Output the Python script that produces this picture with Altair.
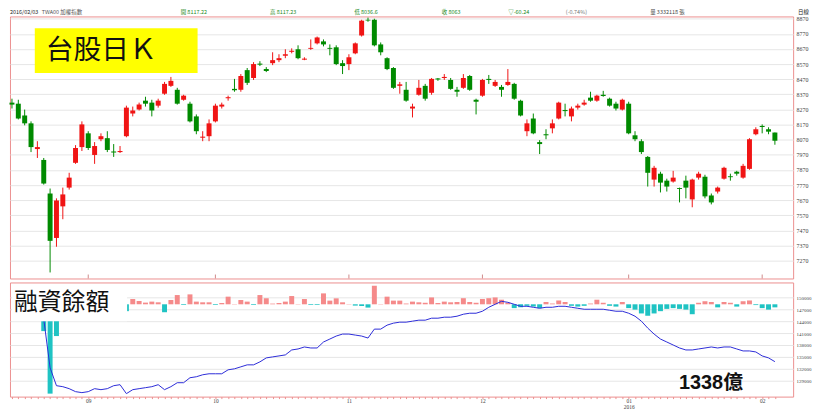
import altair as alt
import pandas as pd

# ---------------- data ----------------
idx = list(range(1, 122))
opens = [8315, 8308, 8230, 8178, 8008, 7936, 7714, 7420, 7629, 7753,
         7917, 8021, 8112, 7969, 8073, 8080, 7992, 7988, 8093, 8243,
         8269, 8328, 8315, 8295, 8374, 8426, 8400, 8334, 8308, 8224,
         8083, 8093, 8191, 8289, 8344, 8406, 8400, 8530, 8478, 8573,
         8537, 8576, 8596, 8625, 8651, 8668, 8599, 8671, 8707, 8720,
         8677, 8681, 8576, 8570, 8641, 8759, 8863, 8863, 8700, 8609,
         8544, 8426, 8400, 8276, 8367, 8426, 8380, 8475, 8478, 8465,
         8400, 8413, 8491, 8334, 8361, 8472, 8426, 8419, 8432, 8439,
         8328, 8126, 8210, 8054, 8106, 8145, 8210, 8266, 8224, 8282,
         8302, 8348, 8328, 8367, 8341, 8308, 8269, 8308, 8099, 8060,
         7956, 7806, 7845, 7799, 7793, 7750, 7799, 7675, 7819, 7825,
         7701, 7727, 7812, 7828, 7858, 7819, 7877, 8106, 8161, 8139,
         8117.22]
highs = [8341, 8334, 8269, 8191, 8060, 7949, 7747, 7682, 7753, 7851,
         8034, 8191, 8126, 8054, 8112, 8126, 8041, 8028, 8295, 8289,
         8315, 8354, 8334, 8341, 8452, 8485, 8413, 8367, 8321, 8237,
         8126, 8204, 8308, 8315, 8361, 8472, 8504, 8544, 8583, 8589,
         8550, 8648, 8635, 8668, 8674, 8694, 8615, 8733, 8752, 8733,
         8700, 8694, 8596, 8635, 8713, 8863, 8877, 8870, 8713, 8615,
         8550, 8452, 8452, 8308, 8465, 8439, 8478, 8478, 8504, 8478,
         8419, 8504, 8498, 8341, 8472, 8498, 8465, 8432, 8537, 8446,
         8334, 8204, 8243, 8067, 8139, 8204, 8321, 8308, 8289, 8308,
         8334, 8387, 8367, 8393, 8348, 8321, 8341, 8321, 8126, 8073,
         7962, 7897, 7858, 7812, 7864, 7753, 7832, 7812, 7858, 7838,
         7714, 7760, 7891, 7845, 7864, 7910, 8080, 8152, 8171, 8152,
         8117.23]
lows = [8276, 8204, 8165, 7988, 7949, 7773, 7192, 7362, 7544, 7740,
        7910, 7995, 8002, 7910, 8060, 7988, 7956, 7982, 8086, 8224,
        8263, 8289, 8224, 8282, 8367, 8419, 8302, 8328, 8184, 8106,
        8060, 8060, 8184, 8276, 8328, 8387, 8387, 8432, 8465, 8557,
        8517, 8563, 8583, 8609, 8641, 8602, 8596, 8664, 8700, 8687,
        8628, 8563, 8504, 8530, 8635, 8752, 8850, 8687, 8628, 8530,
        8406, 8374, 8321, 8217, 8361, 8328, 8367, 8459, 8465, 8400,
        8354, 8406, 8393, 8237, 8354, 8439, 8419, 8354, 8426, 8334,
        8224, 8093, 8106, 7975, 8073, 8112, 8204, 8224, 8191, 8269,
        8295, 8321, 8321, 8354, 8289, 8263, 8263, 8106, 8060, 7975,
        7760, 7760, 7721, 7727, 7786, 7655, 7682, 7623, 7806, 7682,
        7642, 7714, 7806, 7799, 7832, 7812, 7871, 8099, 8112, 8106,
        8036.6]
closes = [8302, 8210, 8178, 8021, 8021, 7780, 7401, 7668, 7708, 7819,
          8015, 8171, 8015, 8028, 8093, 8002, 7985, 7995, 8282, 8263,
          8302, 8308, 8263, 8328, 8439, 8459, 8308, 8361, 8191, 8126,
          8090, 8178, 8295, 8302, 8351, 8397, 8491, 8446, 8570, 8566,
          8524, 8596, 8609, 8635, 8658, 8609, 8606, 8677, 8746, 8700,
          8671, 8570, 8557, 8615, 8707, 8857, 8858, 8694, 8648, 8537,
          8413, 8436, 8328, 8289, 8413, 8341, 8472, 8468, 8485, 8406,
          8387, 8478, 8400, 8321, 8465, 8465, 8452, 8400, 8452, 8341,
          8230, 8178, 8112, 8041, 8099, 8178, 8315, 8259, 8276, 8295,
          8315, 8328, 8361, 8359, 8295, 8276, 8334, 8112, 8073, 7988,
          7851, 7884, 7786, 7760, 7819, 7744, 7753, 7806, 7845, 7695,
          7655, 7753, 7884, 7822, 7845, 7897, 8073, 8139, 8154, 8123,
          8063]

# margin balance (百萬元) and daily change, from day 6 on
margin_idx = list(range(6, 122))
balance = [144500, 132250, 127750, 127500, 127000, 126250, 126000, 126250, 127000, 126750,
           127000, 127750, 128000, 125750, 126750, 127000, 127250, 127500, 128000, 126750,
           127500, 128500, 128500, 129750, 130000, 130500, 130750, 130750, 130750, 131750,
           132000, 132500, 133000, 133000, 133750, 134750, 135000, 135250, 135500, 136750,
           137000, 137500, 137250, 137250, 138750, 139500, 140250, 140750, 140750, 140500,
           140250, 139750, 142000, 142000, 143000, 143500, 143750, 143750, 144000, 144250,
           144250, 144750, 144750, 145000, 145000, 145250, 145750, 146000, 146000, 146500,
           147500, 148250, 149000, 148750, 148250, 147750, 147750, 147500, 147250, 147500,
           147500, 147750, 147750, 147500, 147250, 147000, 147000, 147000, 147000, 146750,
           146500, 146500, 146000, 145250, 144000, 142250, 140750, 139500, 138750, 138000,
           137250, 136750, 136750, 137000, 137250, 137500, 137250, 137500, 137500, 137000,
           136500, 136500, 136250, 135250, 134750, 133800]
change = [-3510, -11700, -4160, -100, -200, -300, -100, 100, 300, -100,
          100, 300, 100, -900, 690, 430, 220, 350, 260, -1040,
          560, 1210, -90, 1300, 350, 260, 260, -90, 170, 1000,
          40, 560, 350, -90, 1210, 780, 90, 170, 350, 1080,
          40, 690, -90, -90, 1430, 480, 780, 260, 40, -170,
          -220, -430, 2430, 40, 1000, 480, 480, 100, 350, 260,
          200, 900, 170, 350, 260, 300, 800, 300, 200, 700,
          800, 900, 600, 200, -500, -400, -200, -300, -500, 300,
          100, 500, 300, -200, -300, -200, 100, 600, 200, -200,
          -300, 300, -500, -700, -1200, -1500, -1200, -900, -600, -500,
          -600, -700, -1300, 200, 400, 300, -400, 300, 200, -300,
          400, 500, -100, -500, -700, -400]

month_idx = [13, 33, 54, 75, 98, 119]
month_lbl = ["09", "10", "11", "12", "01", "02"]
year_lbl = {98: "2016"}

price_ticks = list(range(7270, 8871, 100))
bal_ticks = list(range(129000, 150001, 3000))

header_items = ["2016/02/03", "TWA00 加權指數", "開 8117.22", "高 8117.23", "低 8036.6",
                "收 8063", "▽-60.24", "(-0.74%)", "量 3332118 張", "日線"]

assert len(opens) == len(highs) == len(lows) == len(closes) == len(idx) == 121
assert len(balance) == len(change) == len(margin_idx) == 116

# ---------------- layout / style ----------------
W = 789
H_TOP = 264
H_BOT = 115
RED = "#f01414"
GREEN = "#008a00"
PINK = "#f58a8a"
TEAL = "#1fc3c3"
BLUE = "#2c2cd8"
BORDER = "#ec8f8f"
GRID = "#e6e6e6"
SERIF = "Liberation Serif"
CJK = "Noto Sans CJK TC"

candles = pd.DataFrame({"idx": idx, "open": opens, "high": highs, "low": lows, "close": closes})
candles["dir"] = ["up" if c >= o else "down" for o, c in zip(opens, closes)]

margin = pd.DataFrame({"idx": margin_idx, "bal": balance, "chg": change})
margin["sgn"] = ["pos" if v >= 0 else "neg" for v in change]

months = pd.DataFrame({"idx": month_idx})

xscale = alt.Scale(domain=[0.69, 123.87], nice=False, zero=False, padding=0)
x_top = alt.X("idx:Q", scale=xscale, axis=None)

color = alt.Color("dir:N", scale=alt.Scale(domain=["up", "down"], range=[RED, GREEN]), legend=None)
price_scale = alt.Scale(domain=[7152, 8885], nice=False, zero=False, padding=0)
price_axis = alt.Axis(orient="right", values=price_ticks, tickCount=100, format="d", grid=True,
                      gridColor=GRID, domain=False, ticks=False, labelFont=SERIF, labelFontSize=6,
                      labelColor="#444", labelPadding=3, labelOverlap=False, title=None)

wicks = alt.Chart(candles).mark_rule(strokeWidth=1).encode(
    x=x_top,
    y=alt.Y("low:Q", scale=price_scale, axis=price_axis, title=None),
    y2="high:Q",
    color=color,
)
bodies = alt.Chart(candles).mark_bar(size=5).encode(
    x=x_top,
    y=alt.Y("open:Q", scale=price_scale, title=None),
    y2="close:Q",
    color=color,
)
mticks = alt.Chart(months).mark_rule(color="#d08a8a", strokeWidth=1).encode(
    x=x_top, y=alt.value(H_TOP - 4), y2=alt.value(H_TOP)
)
one = pd.DataFrame({"t": ["台股日Ｋ"]})
ybox = alt.Chart(one).mark_rect(fill="#ffff00").encode(
    x=alt.value(25), x2=alt.value(189), y=alt.value(12), y2=alt.value(57)
)
ytxt = alt.Chart(one).mark_text(font=CJK, fontSize=28, align="left", baseline="middle", color="#111").encode(
    x=alt.value(36), y=alt.value(35), text="t:N"
)

header_x = [0, 32, 172, 262, 347, 435, 502, 560, 645, 794]
header_col = ["#222", "#555", "#1a8a1a", "#1a8a1a", "#1a8a1a", "#1a8a1a", "#1a8a1a", "#777", "#444", "#222"]
header_layers = []
for t, hx, hc in zip(header_items, header_x, header_col):
    header_layers.append(
        alt.Chart(pd.DataFrame({"t": [t]})).mark_text(
            font=CJK, fontSize=5.5, align="left", baseline="middle", color=hc
        ).encode(x=alt.value(hx), y=alt.value(-4), text="t:N")
    )

top = alt.layer(wicks, bodies, mticks, ybox, ytxt, *header_layers).properties(width=W, height=H_TOP)

# ---------------- bottom panel ----------------
lab_expr = "''"
for mi, ml in reversed(list(zip(month_idx, month_lbl))):
    if mi in year_lbl:
        lj = "['%s','%s']" % (ml, year_lbl[mi])
    else:
        lj = "'%s'" % ml
    lab_expr = "datum.value == %d ? %s : (%s)" % (mi, lj, lab_expr)

x_axis = alt.Axis(values=idx, tickCount=500, labelExpr=lab_expr, tickSize=2, tickColor=BORDER,
                  domain=False, grid=False, labelFont=SERIF, labelFontSize=5.5, labelColor="#444",
                  labelPadding=0, labelOverlap=False, labelLineHeight=5.5, labelBound=False, title=None)
x_bot = alt.X("idx:Q", scale=xscale, axis=x_axis, title=None)

bars = alt.Chart(margin).mark_bar(size=5).encode(
    x=x_bot,
    y=alt.Y("chg:Q", scale=alt.Scale(domain=[-12090, 2860], nice=False, padding=0), axis=None),
    color=alt.Color("sgn:N", scale=alt.Scale(domain=["pos", "neg"], range=[PINK, TEAL]), legend=None),
)
line = alt.Chart(margin).mark_line(color=BLUE, strokeWidth=1).encode(
    x=x_bot,
    y=alt.Y("bal:Q", scale=alt.Scale(domain=[125000, 153750], nice=False, zero=False, padding=0),
            axis=alt.Axis(orient="right", values=bal_ticks, tickCount=100, format="d", grid=True,
                          gridColor=GRID, domain=False, ticks=False, labelFont=SERIF, labelFontSize=5,
                          labelColor="#444", labelPadding=3, labelOverlap=False, title=None),
            title=None),
)
wbox = alt.Chart(pd.DataFrame({"t": ["融資餘額"]})).mark_rect(fill="white").encode(
    x=alt.value(2), x2=alt.value(118), y=alt.value(2), y2=alt.value(39)
)
wtxt = alt.Chart(pd.DataFrame({"t": ["融資餘額"]})).mark_text(
    font=CJK, fontSize=24, align="left", baseline="middle", color="#111"
).encode(x=alt.value(4), y=alt.value(21), text="t:N")
vtxt = alt.Chart(pd.DataFrame({"t": ["1338億"]})).mark_text(
    font="Liberation Sans, Noto Sans CJK TC", fontSize=20, fontWeight="bold", align="left",
    baseline="middle", color="#111"
).encode(x=alt.value(674), y=alt.value(101), text="t:N")

bottom = alt.layer(bars, line, wbox, wtxt, vtxt).resolve_scale(y="independent").properties(
    width=W, height=H_BOT
)

chart = alt.vconcat(top, bottom, spacing=2).resolve_scale(color="independent").properties(
    padding={"left": 0, "right": 0, "top": 0, "bottom": 0}, background="white"
).configure_view(stroke=BORDER, strokeWidth=1)

chart.save("out.html", embed_options={"renderer": "svg", "actions": False})
